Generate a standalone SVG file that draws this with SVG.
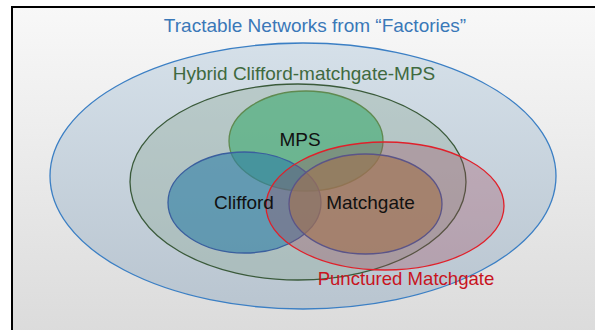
<svg xmlns="http://www.w3.org/2000/svg" width="595" height="330" viewBox="0 0 595 330">
<defs>
<linearGradient id="bg" x1="0" y1="0" x2="0" y2="1">
<stop offset="0" stop-color="#f8f8f8"/>
<stop offset="1" stop-color="#dadada"/>
</linearGradient>
<linearGradient id="outerFill" x1="0" y1="0" x2="0" y2="1">
<stop offset="0" stop-color="#d5e0e9"/>
<stop offset="1" stop-color="#b9c5d0"/>
</linearGradient>
<style>
text{font-family:"Liberation Sans",Arial,sans-serif;font-size:19px;text-anchor:middle}
.lbl{fill:#111111}
ellipse{stroke-width:1.3}
</style>
</defs>
<rect x="0" y="0" width="595" height="330" fill="#ffffff"/>
<rect x="12" y="7" width="600" height="340" fill="url(#bg)" stroke="#000000" stroke-width="2"/>
<g id="outer">
<ellipse cx="303" cy="176" rx="253" ry="133" fill="url(#outerFill)" stroke="#3b7fc4"/>
<text x="315" y="32" fill="#3a78b8">Tractable Networks from “Factories”</text>
</g>
<g id="hybrid">
<ellipse cx="298" cy="182" rx="168" ry="98" fill="#8caa96" fill-opacity="0.35" stroke="#3a5a3a"/>
<text x="304" y="80" fill="#3f6a40">Hybrid Clifford-matchgate-MPS</text>
</g>
<g id="mps">
<ellipse cx="306" cy="141" rx="77" ry="50" fill="#3caa6e" fill-opacity="0.6" stroke="#5f8a50"/>
</g>
<g id="clifford">
<ellipse cx="244.5" cy="202.5" rx="76.5" ry="50.5" fill="#2f7fa6" fill-opacity="0.6" stroke="#3a5f9e"/>
</g>
<g id="matchgate">
<ellipse cx="365.5" cy="204" rx="76.5" ry="50" fill="#a28750" fill-opacity="0.65" stroke="#3e5b9c"/>
</g>
<g id="punctured">
<ellipse cx="385" cy="206" rx="119" ry="64" fill="#a0475b" fill-opacity="0.3" stroke="#e0202a"/>
<text x="406" y="285" fill="#c8141e" style="font-size:18.6px">Punctured Matchgate</text>
</g>
<g id="labels">
<text class="lbl" x="300" y="146">MPS</text>
<text class="lbl" x="244" y="209">Clifford</text>
<text class="lbl" x="370.5" y="209">Matchgate</text>
</g>
<g id="connectors"/>
</svg>
